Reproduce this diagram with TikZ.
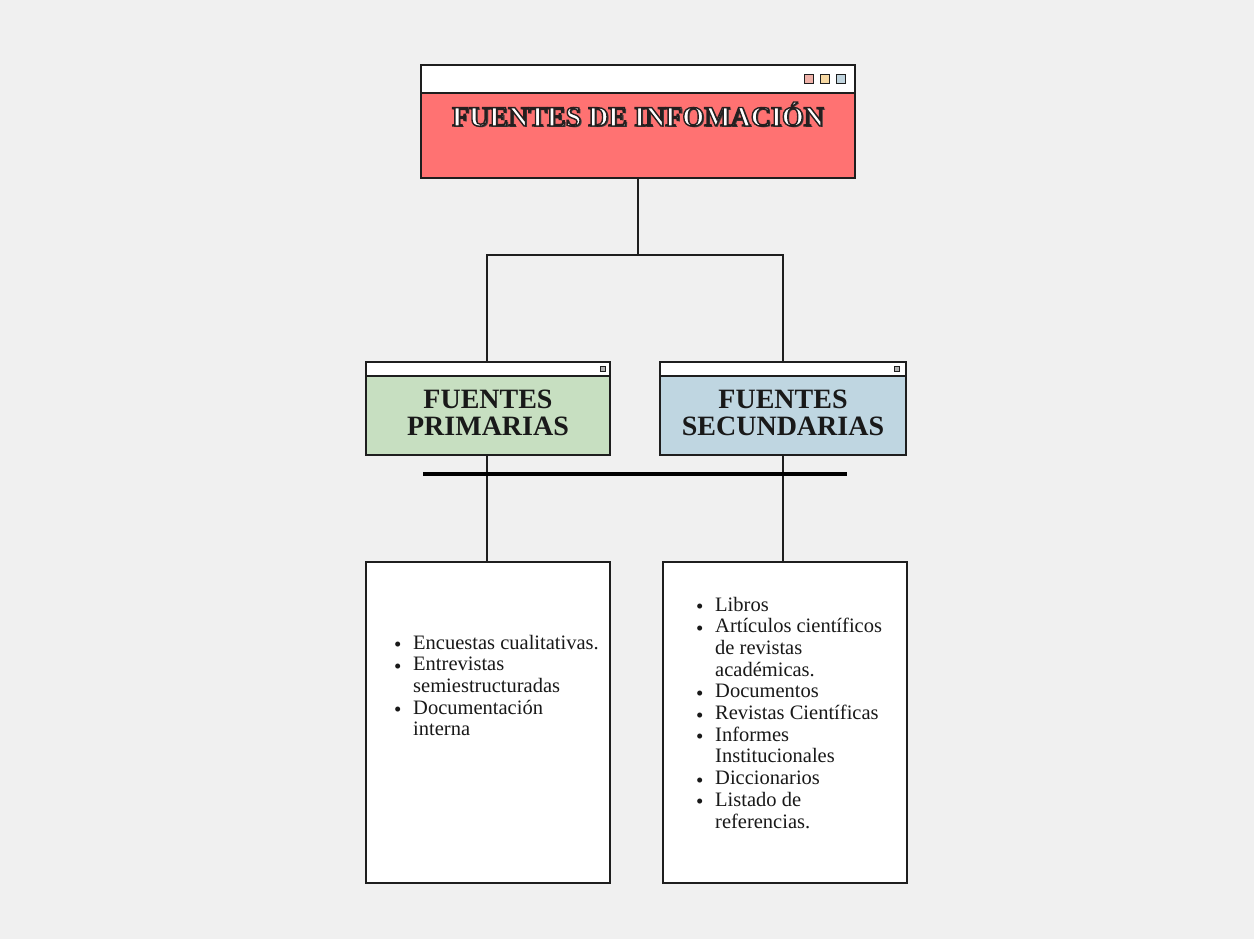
\documentclass[tikz,border=0pt]{standalone}
\usepackage{fontspec}
\setmainfont{Liberation Serif}
\usetikzlibrary{calc}

\definecolor{paper}{HTML}{F0F0F0}
\definecolor{edge}{HTML}{1E1E1E}
\definecolor{redfill}{HTML}{FF7272}
\definecolor{greenfill}{HTML}{C7DFC1}
\definecolor{bluefill}{HTML}{BFD6E1}
\definecolor{btnpink}{HTML}{EFB1A8}
\definecolor{btnyellow}{HTML}{F6D8A2}
\definecolor{btnblue}{HTML}{C0D4DE}

\tikzset{
  panel/.style={draw=edge, line width=1.8pt, inner sep=0pt, outer sep=0pt, anchor=north west},
  titlebar/.style={panel, fill=white},
  btn/.style={draw=edge, line width=1.3pt, inner sep=0pt, minimum width=9pt, minimum height=9pt, anchor=north west},
  minibtn/.style={draw=edge, line width=1.2pt, fill=gray!60, inner sep=0pt, minimum width=5pt, minimum height=5pt, anchor=north west},
  conn/.style={draw=edge, line width=1.8pt},
  headtext/.style={inner sep=0pt, font=\bfseries\fontsize{28}{28}\selectfont},
  midtext/.style={inner sep=0pt, font=\bfseries\fontsize{28}{27}\selectfont, text=black!90},
  listtext/.style={inner sep=0pt, font=\fontsize{20.5}{21.7}\selectfont, text=black!90, anchor=base west},
}

% list bullet
\newcommand{\bul}{\makebox[19pt][l]{\raisebox{-2.5pt}{\fontsize{21}{21}\selectfont\textbullet}}}
% heading text filled white and stroked dark
\newcommand{\strokedtext}[1]{\special{pdf:literal 2 Tr 1.4 w 0.15 0.12 0.12 RG}#1\special{pdf:literal 0 Tr}}

\begin{document}
\begin{tikzpicture}[x=1pt,y=-1pt]
  % paper
  \fill[paper] (0,0) rectangle (1254,939);
  \useasboundingbox (0,0) rectangle (1254,939);

  % main window
  \node[titlebar, minimum width=434pt, minimum height=28pt] (mainbar) at (421,65) {};
  \node[panel, fill=redfill, minimum width=434pt, minimum height=85pt] (mainbody) at (421,93) {};
  \node[btn, fill=btnpink] (b1) at (804,74) {};
  \node[btn, fill=btnyellow] (b2) at (820,74) {};
  \node[btn, fill=btnblue] (b3) at (836,74) {};

  % heading with its drop shadow
  \node[headtext, text=black!75, anchor=base] (headshadow) at (639.6,127.6) {FUENTES DE INFOMACIÓN};
  \node[headtext, text=white, anchor=base] (heading) at (638,126) {\strokedtext{FUENTES DE INFOMACIÓN}};

  % second level windows
  \node[titlebar, minimum width=244pt, minimum height=14pt] (lbar) at (366,362) {};
  \node[panel, fill=greenfill, minimum width=244pt, minimum height=79pt] (lbody) at (366,376) {};
  \node[minibtn] (lbtn) at (600,366) {};
  \node[titlebar, minimum width=246pt, minimum height=14pt] (rbar) at (660,362) {};
  \node[panel, fill=bluefill, minimum width=246pt, minimum height=79pt] (rbody) at (660,376) {};
  \node[minibtn] (rbtn) at (894,366) {};

  \node[midtext, anchor=base] (ltitle) at (488,435) {\begin{tabular}[b]{@{}c@{}}FUENTES\\PRIMARIAS\end{tabular}};
  \node[midtext, anchor=base] (rtitle) at (783,435) {\begin{tabular}[b]{@{}c@{}}FUENTES\\SECUNDARIAS\end{tabular}};

  % detail boxes
  \node[panel, fill=white, minimum width=244pt, minimum height=321pt] (lbox) at (366,562) {};
  \node[panel, fill=white, minimum width=244pt, minimum height=321pt] (rbox) at (663,562) {};

  \node[listtext] (llist) at (394,649) {\begin{tabular}[t]{@{}l@{}l@{}}
    \bul & Encuestas cualitativas.\\
    \bul & Entrevistas\\
         & semiestructuradas\\
    \bul & Documentación\\
         & interna
  \end{tabular}};

  \node[listtext] (rlist) at (696,611) {\begin{tabular}[t]{@{}l@{}l@{}}
    \bul & Libros\\
    \bul & Artículos científicos\\
         & de revistas\\
         & académicas.\\
    \bul & Documentos\\
    \bul & Revistas Científicas\\
    \bul & Informes\\
         & Institucionales\\
    \bul & Diccionarios\\
    \bul & Listado de\\
         & referencias.
  \end{tabular}};

  % connectors
  \coordinate (split) at (638,255);
  \draw[conn] (mainbody.south) -- (split);
  \draw[conn] (lbar.north -| 487,0) |- (split) -| (rbar.north -| 783,0);
  \draw[conn] (lbody.south -| 487,0) -- (lbox.north -| 487,0);
  \draw[conn] (rbody.south -| 783,0) -- (rbox.north -| 783,0);

  % divider rail
  \coordinate (railL) at (423,474);
  \coordinate (railR) at (847,474);
  \draw[draw=black, line width=4.5pt] (railL) -- (railR);
\end{tikzpicture}
\end{document}
